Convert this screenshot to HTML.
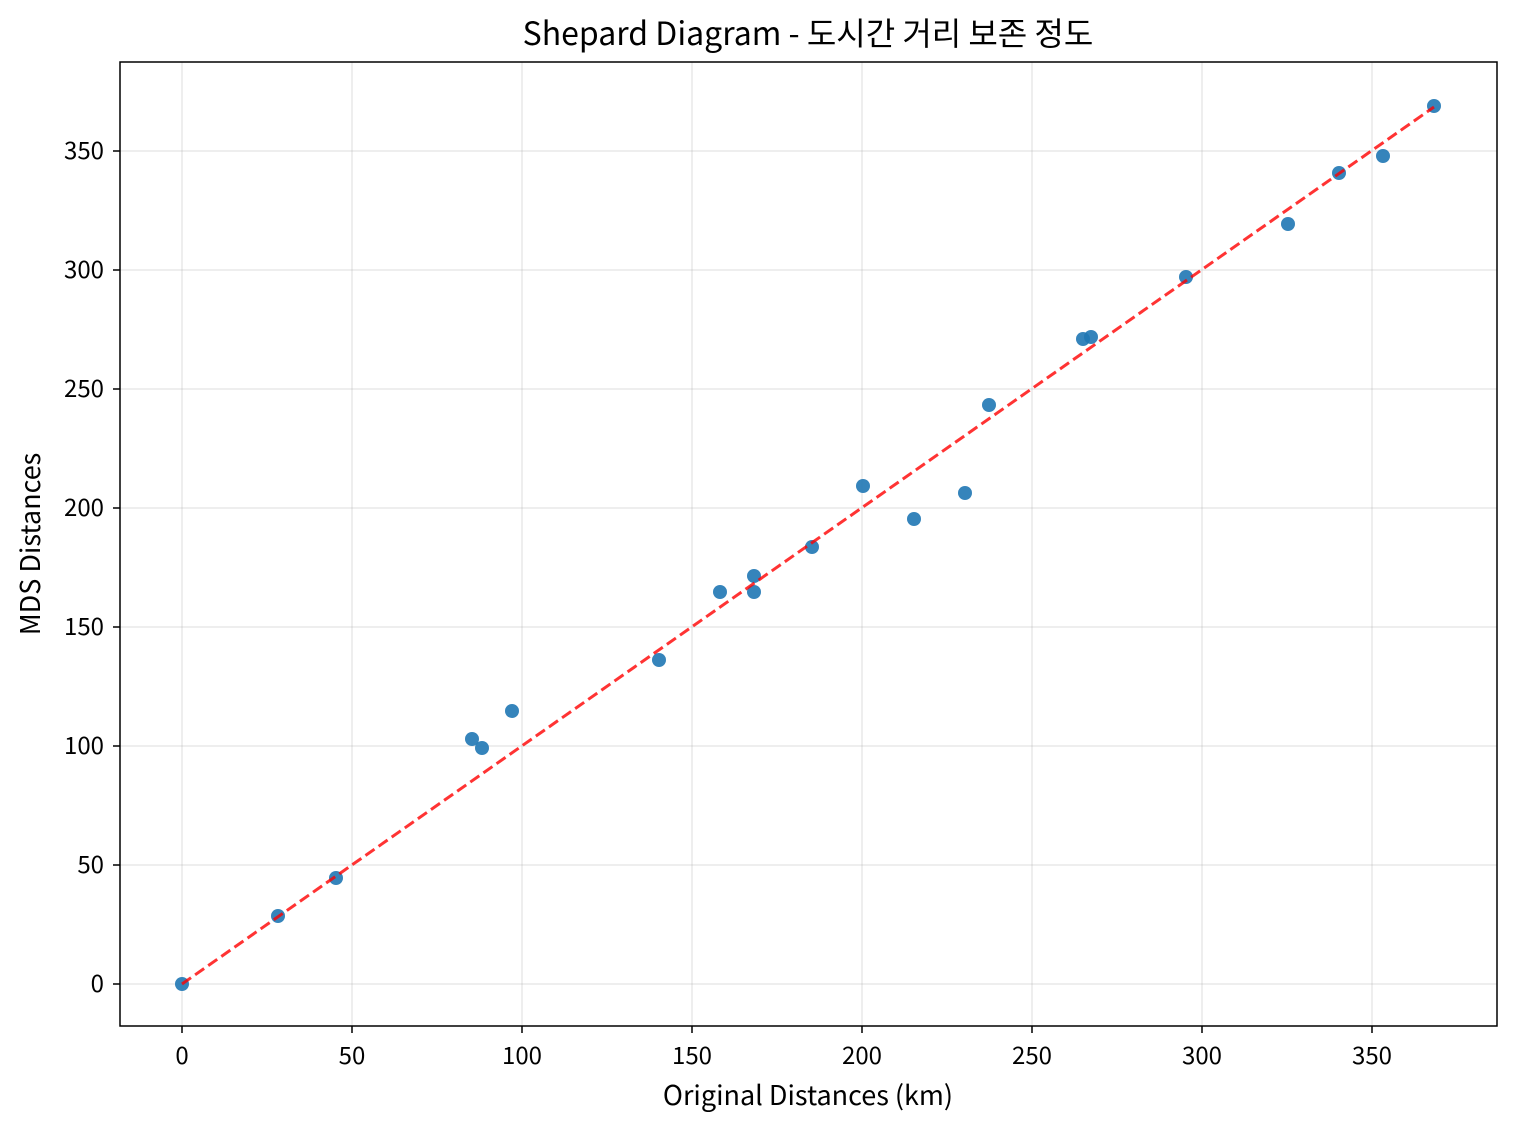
<!DOCTYPE html>
<html><head><meta charset="utf-8"><style>
body{margin:0;background:#fff}
svg{display:block}
text{font-family:"Noto Sans CJK KR","Liberation Sans",sans-serif;fill:#000}
</style></head><body>
<svg width="1515" height="1131" viewBox="0 0 1515 1131" xmlns="http://www.w3.org/2000/svg">
<rect width="1515" height="1131" fill="#fff"/>
<g stroke="#b0b0b0" stroke-opacity="0.35" stroke-width="1.2">
<line x1="182" y1="62" x2="182" y2="1026"/><line x1="352" y1="62" x2="352" y2="1026"/>
<line x1="522" y1="62" x2="522" y2="1026"/><line x1="692" y1="62" x2="692" y2="1026"/>
<line x1="862" y1="62" x2="862" y2="1026"/><line x1="1032" y1="62" x2="1032" y2="1026"/>
<line x1="1202" y1="62" x2="1202" y2="1026"/><line x1="1372" y1="62" x2="1372" y2="1026"/>
<line x1="120" y1="984" x2="1497" y2="984"/><line x1="120" y1="865" x2="1497" y2="865"/>
<line x1="120" y1="746" x2="1497" y2="746"/><line x1="120" y1="627" x2="1497" y2="627"/>
<line x1="120" y1="508" x2="1497" y2="508"/><line x1="120" y1="389" x2="1497" y2="389"/>
<line x1="120" y1="270" x2="1497" y2="270"/><line x1="120" y1="151" x2="1497" y2="151"/>
</g>
<g fill="#1f77b4" fill-opacity="0.9">
<circle cx="182" cy="984" r="7"/><circle cx="278" cy="916" r="7"/><circle cx="336" cy="878" r="7"/>
<circle cx="472" cy="739" r="7"/><circle cx="482" cy="748" r="7"/><circle cx="512" cy="711" r="7"/>
<circle cx="659" cy="660" r="7"/><circle cx="720" cy="592" r="7"/><circle cx="754" cy="576" r="7"/>
<circle cx="754" cy="592" r="7"/><circle cx="812" cy="547" r="7"/><circle cx="863" cy="486" r="7"/>
<circle cx="914" cy="519" r="7"/><circle cx="965" cy="493" r="7"/><circle cx="989" cy="405" r="7"/>
<circle cx="1083" cy="339" r="7"/><circle cx="1091" cy="337" r="7"/><circle cx="1186" cy="277" r="7"/>
<circle cx="1288" cy="224" r="7"/><circle cx="1339" cy="173" r="7"/><circle cx="1383" cy="156" r="7"/>
<circle cx="1434" cy="106" r="7"/>
</g>
<line x1="182" y1="984" x2="1434" y2="107" stroke="#ff0000" stroke-opacity="0.8" stroke-width="3" stroke-dasharray="11,5"/>
<rect x="120" y="62" width="1377" height="964" fill="none" stroke="#000" stroke-width="1.5"/>
<g stroke="#000" stroke-width="1.5">
<line x1="182" y1="1026" x2="182" y2="1033"/><line x1="352" y1="1026" x2="352" y2="1033"/>
<line x1="522" y1="1026" x2="522" y2="1033"/><line x1="692" y1="1026" x2="692" y2="1033"/>
<line x1="862" y1="1026" x2="862" y2="1033"/><line x1="1032" y1="1026" x2="1032" y2="1033"/>
<line x1="1202" y1="1026" x2="1202" y2="1033"/><line x1="1372" y1="1026" x2="1372" y2="1033"/>
<line x1="113" y1="984" x2="120" y2="984"/><line x1="113" y1="865" x2="120" y2="865"/>
<line x1="113" y1="746" x2="120" y2="746"/><line x1="113" y1="627" x2="120" y2="627"/>
<line x1="113" y1="508" x2="120" y2="508"/><line x1="113" y1="389" x2="120" y2="389"/>
<line x1="113" y1="270" x2="120" y2="270"/><line x1="113" y1="151" x2="120" y2="151"/>
</g>
<g font-size="24" text-anchor="middle">
<text x="182" y="1064">0</text><text x="352" y="1064">50</text><text x="522" y="1064">100</text>
<text x="692" y="1064">150</text><text x="862" y="1064">200</text><text x="1032" y="1064">250</text>
<text x="1202" y="1064">300</text><text x="1372" y="1064">350</text>
</g>
<g font-size="24" text-anchor="end">
<text x="104" y="992">0</text><text x="104" y="873">50</text><text x="104" y="754">100</text>
<text x="104" y="635">150</text><text x="104" y="516">200</text><text x="104" y="397">250</text>
<text x="104" y="278">300</text><text x="104" y="159">350</text>
</g>
<text x="808" y="1105" font-size="27" text-anchor="middle">Original Distances (km)</text>
<text transform="translate(40,544) rotate(-90)" font-size="27" text-anchor="middle">MDS Distances</text>
<text x="808" y="45" font-size="32" text-anchor="middle">Shepard Diagram - 도시간 거리 보존 정도</text>
</svg>
</body></html>
